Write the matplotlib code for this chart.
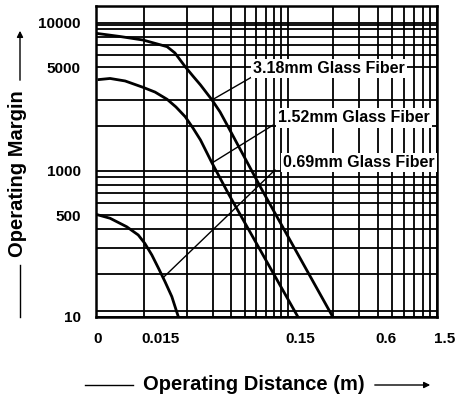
import numpy as np
import matplotlib
matplotlib.use("Agg")
import matplotlib.pyplot as plt
from matplotlib.transforms import ScaledTranslation

plt.rcParams['font.family'] = ['Liberation Sans', 'DejaVu Sans']
plt.rcParams['font.weight'] = 'bold'

# curve data (distance in m, operating margin)
x_318 = [0, 0.0075, 0.0147, 0.0217, 0.0246, 0.029, 0.0328, 0.037, 0.0404, 0.0445,
         0.0506, 0.0575, 0.099, 0.30]
y_318 = [8460, 8050, 7620, 6870, 6230, 5030, 4350, 3790, 3390, 3000,
         2490, 1980, 740, 10]

x_152 = [0.00094, 0.0044, 0.0091, 0.0147, 0.0179, 0.0217, 0.025, 0.029, 0.0328,
         0.037, 0.0445, 0.0575, 0.175]
y_152 = [4120, 4190, 4030, 3650, 3390, 3030, 2690, 2310, 1940,
         1610, 1125, 705, 10]

x_069 = [0, 0.0044, 0.0096, 0.0132, 0.0152, 0.017, 0.0189, 0.021, 0.0234, 0.026]
y_069 = [506, 476, 417, 367, 322, 269, 219, 173, 131, 10]

labels = ["3.18mm Glass Fiber", "1.52mm Glass Fiber", "0.69mm Glass Fiber"]

x_ticks = [0, 0.015, 0.15, 0.6, 1.5]
x_ticklabels = ["0", "0.015", "0.15", "0.6", "1.5"]
y_ticks = [10, 500, 1000, 5000, 10000]
y_ticklabels = ["10", "500", "1000", "5000", "10000"]

# chart grid
x_grid = [0.015 * k for k in range(2, 11)] + [0.15 * k for k in range(2, 10)]
y_grid = [100, 200, 300, 400, 600, 700, 800, 900, 2000, 3000,
          6000, 7000, 8000, 9000, 9650]

# the printed chart uses a squeezed, piecewise log scale
L015, L15, L200 = np.log10(0.015), np.log10(0.15), np.log10(200)


def x_fwd(x):
    x = np.asarray(x, dtype=float)
    lg = np.log10(np.clip(x, 0.015, None))
    logpart = np.where(lg < L15, 48 + (lg - L015) * 144, 192 + (lg - L15) * 149)
    return np.where(x < 0.015, x / 0.015 * 48, logpart)


def x_inv(p):
    p = np.asarray(p, dtype=float)
    lg = np.where(p < 192, L015 + (p - 48) / 144, L15 + (p - 192) / 149)
    return np.where(p < 48, p / 48 * 0.015, 10 ** lg)


def y_fwd(v):
    v = np.asarray(v, dtype=float)
    lg = np.log10(np.clip(v, 1e-3, None))
    return np.where(lg < 2, (lg - 1) * 6,
                    np.where(lg < L200, 6 + (lg - 2) / 0.30103 * 37,
                             43 + (lg - L200) * 148))


def y_inv(p):
    p = np.asarray(p, dtype=float)
    lg = np.where(p < 6, 1 + p / 6,
                  np.where(p < 43, 2 + (p - 6) / 37 * 0.30103,
                           L200 + (p - 43) / 148))
    return 10 ** lg


fig = plt.figure(figsize=(4.55, 3.98), dpi=100)
ax = fig.add_axes([96 / 455, 81 / 398, 341 / 455, 311 / 398])
ax.set_xscale('function', functions=(x_fwd, x_inv))
ax.set_yscale('function', functions=(y_fwd, y_inv))
ax.set_xlim(0, 1.5)
ax.set_ylim(10, float(y_inv(311)))

ax.set_xticks(x_ticks)
ax.set_xticklabels(x_ticklabels)
ax.set_yticks(y_ticks)
ax.set_yticklabels(y_ticklabels)
ax.set_xticks(x_grid, minor=True)
ax.set_yticks(y_grid, minor=True)
ax.grid(True, which='both', color='black', lw=1.3)
ax.tick_params(which='both', length=0)
ax.tick_params(axis='x', pad=11, labelsize=11)
ax.tick_params(axis='y', pad=11, labelsize=11)
for s in ax.spines.values():
    s.set_linewidth(1.8)

off = ScaledTranslation(-2 / 72, 0, fig.dpi_scale_trans)
for lbl in ax.get_xticklabels():
    lbl.set_ha('left')
    lbl.set_transform(lbl.get_transform() + off)

ax.plot(x_318, y_318, color='black', lw=2.0, zorder=3, solid_joinstyle='round')
ax.plot(x_152, y_152, color='black', lw=2.0, zorder=3, solid_joinstyle='round')
ax.plot(x_069, y_069, color='black', lw=2.0, zorder=3, solid_joinstyle='round')

# labels with leaders
lab_pos = [(0.460, 0.800), (0.534, 0.640), (0.548, 0.498)]
lead_start = [(0.4575, 0.772), (0.519, 0.617), (0.525, 0.473)]
lead_end = [(0.0445, 3000), (0.0445, 1125), (0.0203, 186)]
for txt, lp, ls, le in zip(labels, lab_pos, lead_start, lead_end):
    ax.annotate('', xy=le, xycoords='data', xytext=ls, textcoords='axes fraction',
                arrowprops=dict(arrowstyle='-', color='black', lw=1.0,
                                shrinkA=0, shrinkB=0), zorder=4)
    ax.text(lp[0], lp[1], txt, transform=ax.transAxes, ha='left', va='center',
            fontsize=11.5, fontweight='bold', zorder=5,
            bbox=dict(facecolor='white', edgecolor='none', pad=1.5))

# axis titles with arrows
fig.text(0.557, 1 - 385 / 398, "Operating Distance (m)", ha='center', va='center',
         fontsize=14.5, fontweight='bold')
fig.text(18 / 455, 1 - 174 / 398, "Operating Margin", ha='center', va='center',
         rotation=90, fontsize=14.5, fontweight='bold')
ya = 1 - 385 / 398
fig.add_artist(plt.Line2D([85 / 455, 133 / 455], [ya, ya], color='black', lw=1.0))
fig.patches.append(matplotlib.patches.FancyArrowPatch(
    (372 / 455, ya), (433 / 455, ya), transform=fig.transFigure,
    arrowstyle='-|>', mutation_scale=9, color='black', lw=1.0))
xa = 20 / 455
fig.add_artist(plt.Line2D([xa, xa], [1 - 317 / 398, 1 - 265 / 398], color='black', lw=1.0))
fig.patches.append(matplotlib.patches.FancyArrowPatch(
    (xa, 1 - 83 / 398), (xa, 1 - 28 / 398), transform=fig.transFigure,
    arrowstyle='-|>', mutation_scale=9, color='black', lw=1.0))

fig.savefig("out.png", dpi=100)
